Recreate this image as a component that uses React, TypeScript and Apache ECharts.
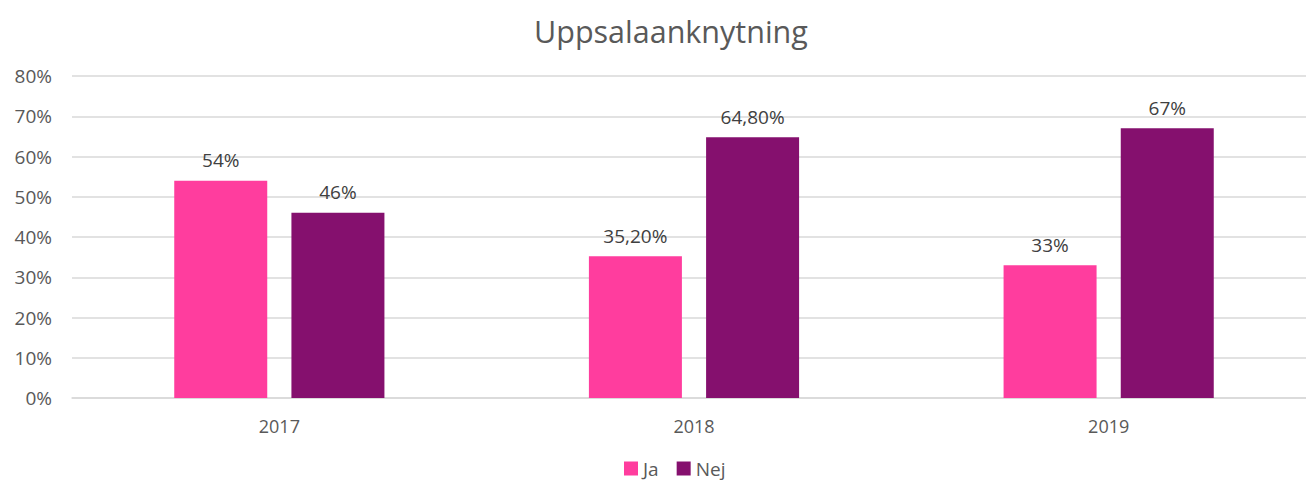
import React, { useEffect, useRef } from "react";
import * as echarts from "echarts";

const categories = ["2017", "2018", "2019"];
const jaValues = [54, 35.2, 33];
const nejValues = [46, 64.8, 67];
const jaLabels = ["54%", "35,20%", "33%"];
const nejLabels = ["46%", "64,80%", "67%"];
const yTicks = [0, 10, 20, 30, 40, 50, 60, 70, 80];

const FONT = "'Open Sans', 'Noto Sans', sans-serif";

export default function App() {
  const ref = useRef<HTMLDivElement>(null);
  useEffect(() => {
    if (!ref.current) return;
    const chart = echarts.init(ref.current, undefined, { renderer: "svg" });
    chart.setOption({
      animation: false,
      backgroundColor: "#ffffff",
      title: {
        text: "Uppsalaanknytning",
        left: 529,
        top: 10,
        textStyle: { fontFamily: FONT, fontSize: 30.5, fontWeight: "normal", color: "#595959" },
      },
      legend: {
        top: 454,
        left: 619,
        itemWidth: 14,
        itemHeight: 14,
        itemGap: 18,
        icon: "rect",
        textStyle: { fontFamily: FONT, fontSize: 19, color: "#595959" },
        data: ["Ja", "Nej"],
      },
      grid: { left: 72, width: 1244, top: 76, height: 322, outerBoundsMode: "none", containLabel: false },
      xAxis: {
        type: "category",
        data: categories,
        axisTick: { show: false },
        axisLine: { lineStyle: { color: "#d9d9d9", width: 1.5 } },
        axisLabel: { fontFamily: FONT, fontSize: 18, color: "#595959", margin: 19 },
      },
      yAxis: {
        type: "value",
        min: yTicks[0],
        max: yTicks[yTicks.length - 1],
        interval: 10,
        axisLabel: {
          fontFamily: FONT,
          fontSize: 19,
          color: "#595959",
          margin: 20,
          formatter: (v: number) => `${v}%`,
        },
        splitLine: { lineStyle: { color: "#d9d9d9", width: 1.5 } },
        axisLine: { show: false },
        axisTick: { show: false },
      },
      series: [
        {
          name: "Ja",
          type: "bar",
          data: jaValues,
          barWidth: 93,
          barGap: "26%",
          itemStyle: { color: "#FF3D9E" },
          label: {
            show: true,
            position: "top",
            distance: 11,
            fontFamily: FONT,
            fontSize: 19,
            color: "#404040",
            formatter: (p: any) => jaLabels[p.dataIndex],
          },
        },
        {
          name: "Nej",
          type: "bar",
          data: nejValues,
          barWidth: 93,
          itemStyle: { color: "#85106E" },
          label: {
            show: true,
            position: "top",
            distance: 11,
            fontFamily: FONT,
            fontSize: 19,
            color: "#404040",
            formatter: (p: any) => nejLabels[p.dataIndex],
          },
        },
      ],
    });
    return () => chart.dispose();
  }, []);
  return (
    <div
      ref={ref}
      style={{ position: "fixed", left: 0, top: 0, width: 1306, height: 482, background: "#fff" }}
    />
  );
}
